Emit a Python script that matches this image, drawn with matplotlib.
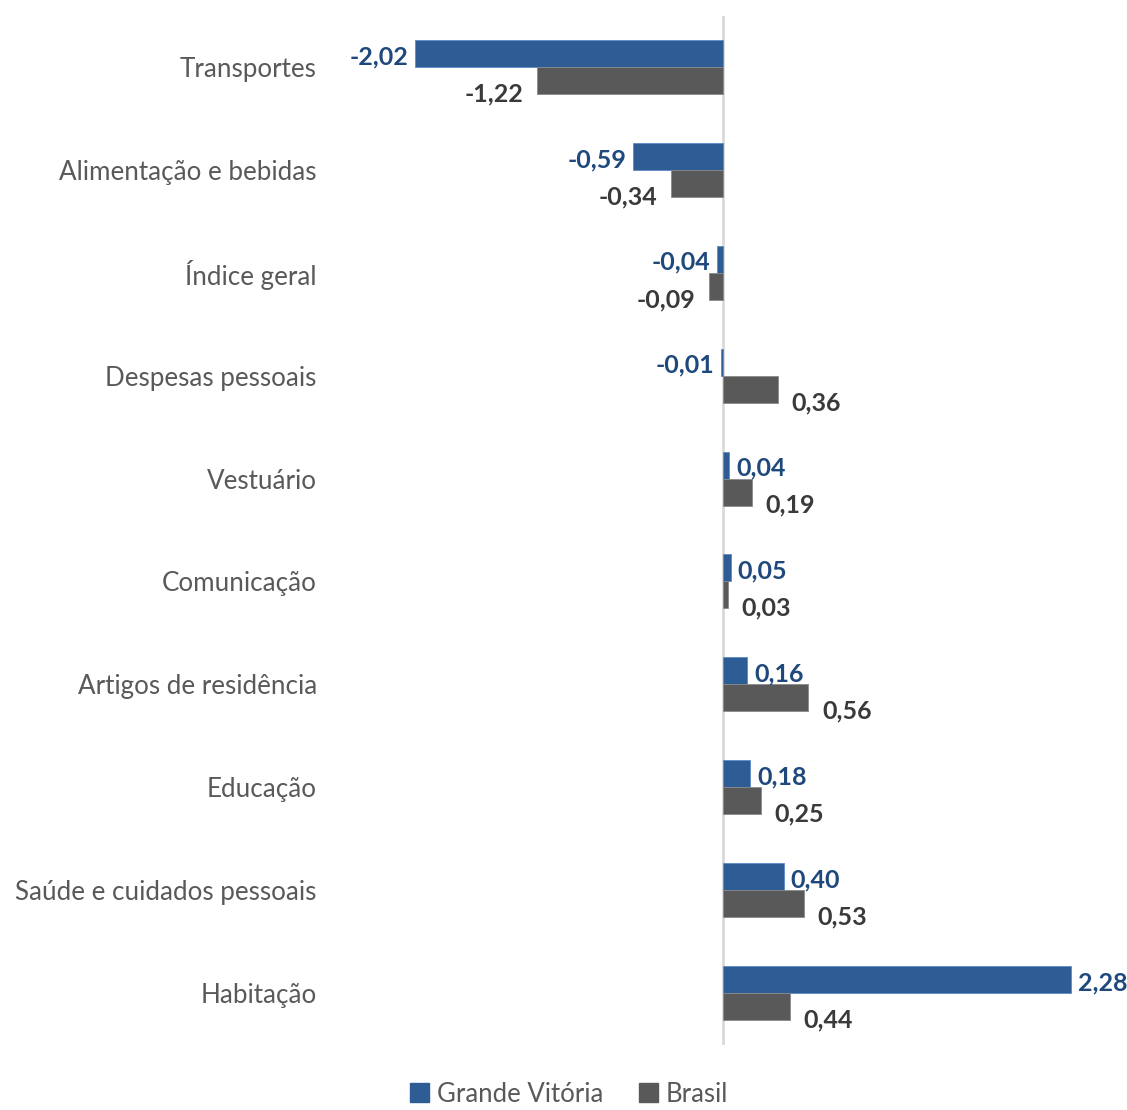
import numpy as np
import matplotlib.pyplot as plt
from matplotlib.patches import Patch

categories = ["Transportes", "Alimentação e bebidas", "Índice geral",
              "Despesas pessoais", "Vestuário", "Comunicação",
              "Artigos de residência", "Educação",
              "Saúde e cuidados pessoais", "Habitação"]
grande_vitoria = [-2.02, -0.59, -0.04, -0.01, 0.04, 0.05, 0.16, 0.18, 0.40, 2.28]
brasil = [-1.22, -0.34, -0.09, 0.36, 0.19, 0.03, 0.56, 0.25, 0.53, 0.44]

BLUE = "#2E5D96"
BLUE_TXT = "#1F497D"
GRAY = "#595959"
GRAY_TXT = "#3A3A3A"

plt.rcParams['font.family'] = ['Lato', 'DejaVu Sans']

fig = plt.figure(figsize=(11.27, 11.10), dpi=100)
ax = fig.add_axes([326.5 / 1127, 65.5 / 1110, 793 / 1127, 1029 / 1110])

y = np.arange(len(categories))
h = 0.262
ax.barh(y - h / 2, grande_vitoria, height=h, color=BLUE, edgecolor="#5B8BC7", linewidth=0.6)
ax.barh(y + h / 2, brasil, height=h, color=GRAY, edgecolor="#8A8A8A", linewidth=0.6)

ax.axvline(0, color="#D9D9D9", linewidth=2, zorder=0)
ax.set_xlim(-2.6, 2.6)
ax.set_ylim(len(categories) - 0.5, -0.5)

ax.set_yticks(y)
ax.set_yticklabels(categories, fontsize=18.7, color=GRAY)
ax.tick_params(axis="y", length=0, pad=7)
ax.set_xticks([])
for s in ax.spines.values():
    s.set_visible(False)

def fmt(v):
    return "{:.2f}".format(v).replace(".", ",")

for i, (v1, v2) in enumerate(zip(grande_vitoria, brasil)):
    pad = 0.045
    ha = "left" if v1 >= 0 else "right"
    ax.text(v1 + (pad if v1 >= 0 else -pad), i - h / 2 + 0.03, fmt(v1),
            ha=ha, va="center", fontsize=18, fontweight="bold", color=BLUE_TXT)
    pad = 0.09
    ha = "left" if v2 >= 0 else "right"
    ax.text(v2 + (pad if v2 >= 0 else -pad), i + h / 2 + 0.13, fmt(v2),
            ha=ha, va="center", fontsize=18, fontweight="bold", color=GRAY_TXT)

handles = [Patch(color=BLUE, label="Grande Vitória"), Patch(color=GRAY, label="Brasil")]
fig.legend(handles=handles, loc="lower center", bbox_to_anchor=(0.505, -0.018), ncol=2,
           frameon=False, fontsize=18.5, labelcolor=GRAY, handlelength=0.75,
           handleheight=0.75, handletextpad=0.3, columnspacing=1.4)

fig.savefig("out.png", dpi=100)
